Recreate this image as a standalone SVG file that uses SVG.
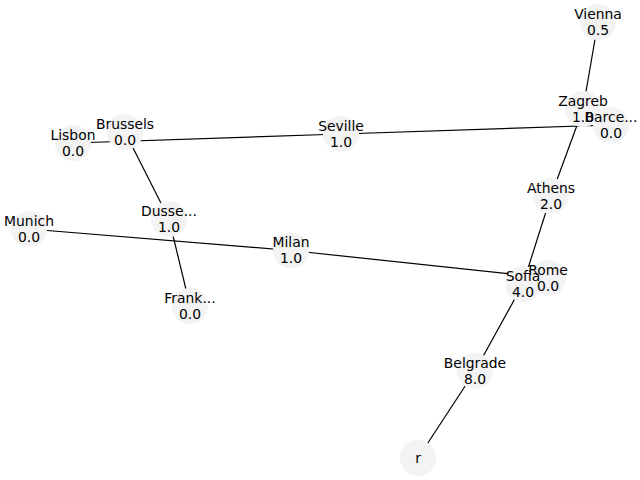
<svg xmlns="http://www.w3.org/2000/svg" width="640" height="480" viewBox="0 0 640 480">
<style>
.n{fill:#f3f3f3;stroke:none}
.t{font-family:"DejaVu Sans",sans-serif;font-size:13.9px;fill:#000;text-anchor:middle}
.e{stroke:#000;stroke-width:1.2;fill:none}
</style>
<rect width="640" height="480" fill="#fff"/>
<g id="edges">
<line class="e" x1="598" y1="22" x2="583" y2="109"/>
<line class="e" x1="583" y1="109" x2="551" y2="196"/>
<line class="e" x1="73" y1="143" x2="341" y2="134"/>
<line class="e" x1="341" y1="134" x2="611" y2="125"/>
<line class="e" x1="125" y1="132" x2="169" y2="219"/>
<line class="e" x1="169" y1="219" x2="190" y2="306"/>
<line class="e" x1="29" y1="229" x2="291" y2="250.5"/>
<line class="e" x1="291" y1="250.5" x2="548" y2="278"/>
<line class="e" x1="551" y1="196" x2="523" y2="284"/>
<line class="e" x1="523" y1="284" x2="475" y2="371"/>
<line class="e" x1="475" y1="371" x2="418" y2="458"/>
</g>
<g id="nodes">
<g id="node-Vienna"><circle class="n" cx="598" cy="22" r="18"/></g>
<g id="node-Zagreb"><circle class="n" cx="583" cy="109" r="18"/></g>
<g id="node-Barcelona"><circle class="n" cx="611" cy="125" r="18"/></g>
<g id="node-Lisbon"><circle class="n" cx="73" cy="143" r="18"/></g>
<g id="node-Brussels"><circle class="n" cx="125" cy="132" r="18"/></g>
<g id="node-Seville"><circle class="n" cx="341" cy="134" r="18"/></g>
<g id="node-Dusseldorf"><circle class="n" cx="169" cy="219" r="18"/></g>
<g id="node-Munich"><circle class="n" cx="29" cy="229" r="18"/></g>
<g id="node-Milan"><circle class="n" cx="291" cy="250.5" r="18"/></g>
<g id="node-Frankfurt"><circle class="n" cx="190" cy="306" r="18"/></g>
<g id="node-Athens"><circle class="n" cx="551" cy="196" r="18"/></g>
<g id="node-Rome"><circle class="n" cx="548" cy="278" r="18"/></g>
<g id="node-Sofia"><circle class="n" cx="523" cy="284" r="18"/></g>
<g id="node-Belgrade"><circle class="n" cx="475" cy="371" r="18"/></g>
<g id="node-r"><circle class="n" cx="418" cy="458" r="18"/></g>
</g>
<g id="labels">
<text class="t" x="598" y="19">Vienna</text><text class="t" x="598" y="35">0.5</text>
<text class="t" x="583" y="106">Zagreb</text><text class="t" x="583" y="122">1.0</text>
<text class="t" x="611" y="122">Barce...</text><text class="t" x="611" y="138">0.0</text>
<text class="t" x="73" y="140">Lisbon</text><text class="t" x="73" y="156">0.0</text>
<text class="t" x="125" y="129">Brussels</text><text class="t" x="125" y="145">0.0</text>
<text class="t" x="341" y="131">Seville</text><text class="t" x="341" y="147">1.0</text>
<text class="t" x="169" y="216">Dusse...</text><text class="t" x="169" y="232">1.0</text>
<text class="t" x="29" y="226">Munich</text><text class="t" x="29" y="242">0.0</text>
<text class="t" x="291" y="247">Milan</text><text class="t" x="291" y="263">1.0</text>
<text class="t" x="190" y="303">Frank...</text><text class="t" x="190" y="319">0.0</text>
<text class="t" x="551" y="193">Athens</text><text class="t" x="551" y="209">2.0</text>
<text class="t" x="523" y="281">Sofia</text><text class="t" x="523" y="297">4.0</text>
<text class="t" x="548" y="275">Rome</text><text class="t" x="548" y="291">0.0</text>
<text class="t" x="475" y="368">Belgrade</text><text class="t" x="475" y="384">8.0</text>
<text class="t" x="418" y="463">r</text>
</g>
</svg>
